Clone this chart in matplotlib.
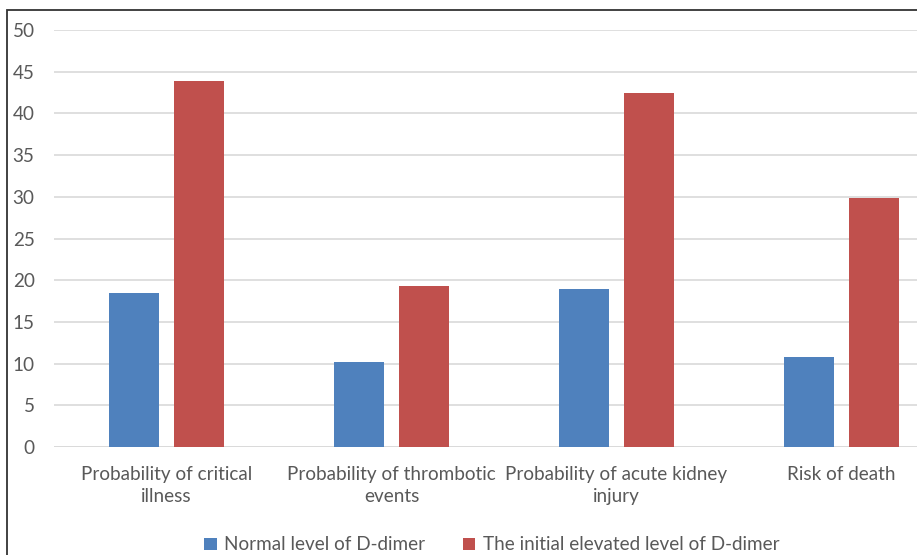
import numpy as np
import matplotlib
matplotlib.use('Agg')
import matplotlib.pyplot as plt
from matplotlib.patches import Rectangle

# values
categories = ['Probability of critical\nillness', 'Probability of thrombotic\nevents',
              'Probability of acute kidney\ninjury', 'Risk of death']
normal_vals = [18.5, 10.2, 18.9, 10.8]
elevated_vals = [43.9, 19.3, 42.4, 29.9]
series_names = ['Normal level of D-dimer', 'The initial elevated level of D-dimer']
y_ticks = [0, 5, 10, 15, 20, 25, 30, 35, 40, 45, 50]

plt.rcParams['font.family'] = ['Lato', 'DejaVu Sans']

W, H = 917, 555
fig = plt.figure(figsize=(W / 100, H / 100), dpi=100)

# outer chart border (cut off at the right and bottom in the reference)
fig.patches.append(Rectangle((7 / W, -0.1), 1.2, 1 - 10 / H + 0.1, transform=fig.transFigure,
                             fill=False, edgecolor='#333333', linewidth=1.3))

ax = fig.add_axes([54 / W, (H - 447) / H, 900 / W, 417 / H])
x = np.arange(len(categories))
w = 0.222
off = 0.143
ax.bar(x - off, normal_vals, w, color='#4F81BD', label=series_names[0], zorder=3)
ax.bar(x + off, elevated_vals, w, color='#C0504D', label=series_names[1], zorder=3)

fs = 13.6
ax.set_xlim(-0.5, 3.5)
ax.set_ylim(0, 50)
ax.set_yticks(y_ticks)
ax.yaxis.grid(True, color='#d9d9d9', linewidth=1.2, zorder=0)
ax.set_xticks(x)
ax.set_xticklabels(categories, fontsize=fs, color='#595959', linespacing=1.35)
ax.tick_params(axis='y', labelsize=fs, labelcolor='#595959', length=0, pad=14)
ax.tick_params(axis='x', length=0, pad=14)
for s in ax.spines.values():
    s.set_visible(False)
ax.axhline(0, color='#d9d9d9', linewidth=1.2, zorder=1)
ax.set_facecolor('none')

leg = fig.legend(loc='center', bbox_to_anchor=(492 / W, 1 - 545 / H), ncol=2,
                 frameon=False, fontsize=fs, handlelength=0.65, handleheight=0.65,
                 handletextpad=0.4, columnspacing=2.0)
for t in leg.get_texts():
    t.set_color('#595959')

fig.savefig('out.png', dpi=100)
